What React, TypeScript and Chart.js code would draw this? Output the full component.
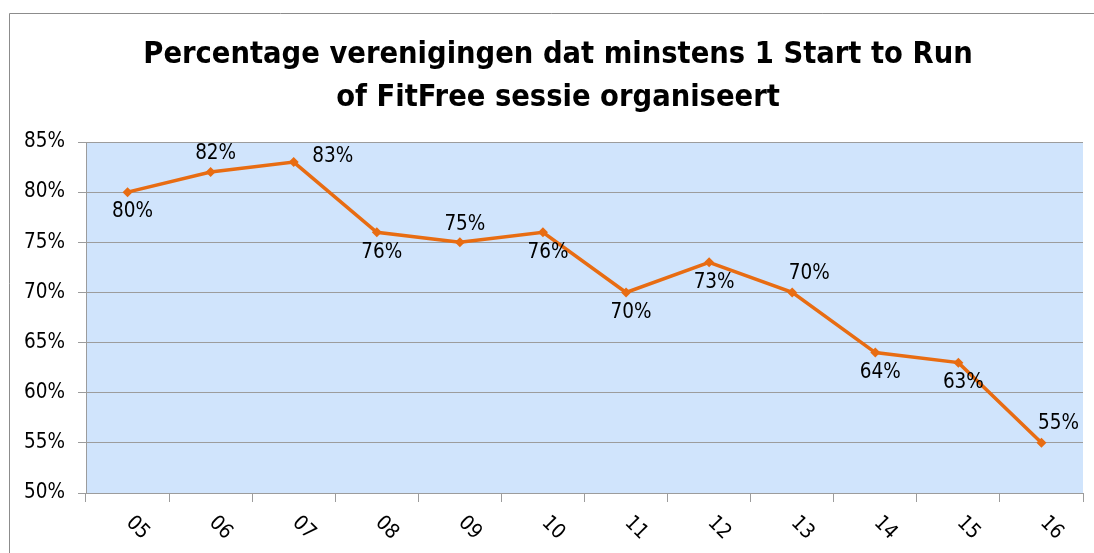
import React, { useEffect, useRef } from "react";
import { Chart, registerables } from "chart.js";

Chart.register(...registerables);

const titleLines = ["Percentage verenigingen dat minstens 1 Start to Run", "of FitFree sessie organiseert"];
const categories = ["05", "06", "07", "08", "09", "10", "11", "12", "13", "14", "15", "16"];
const values = [80, 82, 83, 76, 75, 76, 70, 73, 70, 64, 63, 55];
const labelPlacement = ["below", "above", "right", "below", "above", "below", "below", "below", "aboveRight", "below", "below", "aboveRight"];
const yMin = 50;
const yMax = 85;
const yStep = 5;

const FONT = '"DejaVu Sans Condensed", "DejaVu Sans", sans-serif';
const LABEL_SIZE = 20.5;
const ORANGE = "#E86C12";
const GRID = "#9C9C9C";

const placementOffset: Record<string, [number, number]> = {
  below: [5, 20],
  above: [5, -18],
  right: [39, -5],
  aboveRight: [17, -19],
};

const decorPlugin = {
  id: "decor",
  beforeDraw(chart: any) {
    const { ctx, chartArea } = chart;
    ctx.save();
    ctx.fillStyle = "#ffffff";
    ctx.fillRect(0, 0, chart.width, chart.height);
    ctx.fillStyle = "#D0E4FC";
    ctx.fillRect(chartArea.left, chartArea.top, chartArea.right - chartArea.left, chartArea.bottom - chartArea.top);
    // outer frame
    ctx.strokeStyle = "#8C8C8C";
    ctx.lineWidth = 1;
    ctx.beginPath();
    ctx.moveTo(9.5, chart.height);
    ctx.lineTo(9.5, 13.5);
    ctx.lineTo(chart.width, 13.5);
    ctx.stroke();
    // title
    ctx.fillStyle = "#000000";
    ctx.font = `bold 30.5px ${FONT}`;
    ctx.textAlign = "center";
    ctx.textBaseline = "alphabetic";
    ctx.fillText(titleLines[0], 558, 63);
    ctx.fillText(titleLines[1], 558, 106);
    ctx.restore();
  },
  afterDatasetsDraw(chart: any) {
    const { ctx } = chart;
    const meta = chart.getDatasetMeta(0);
    ctx.save();
    ctx.fillStyle = "#000000";
    ctx.font = `${LABEL_SIZE}px ${FONT}`;
    ctx.textAlign = "center";
    ctx.textBaseline = "middle";
    meta.data.forEach((pt: any, i: number) => {
      const [dx, dy] = placementOffset[labelPlacement[i]];
      ctx.fillText(values[i] + "%", pt.x + dx, pt.y + dy);
    });
    // rotated x-axis labels
    const xs = chart.scales.x;
    categories.forEach((c, i) => {
      const x = xs.getPixelForValue(i);
      ctx.save();
      ctx.translate(x + 10, xs.bottom - 25);
      ctx.rotate(Math.PI / 4);
      ctx.fillText(c, 0, 0);
      ctx.restore();
    });
    ctx.restore();
  },
};

export default function App() {
  const ref = useRef<HTMLCanvasElement | null>(null);
  useEffect(() => {
    if (!ref.current) return;
    const chart = new Chart(ref.current, {
      type: "line",
      data: {
        labels: categories,
        datasets: [
          {
            data: values,
            borderColor: ORANGE,
            backgroundColor: ORANGE,
            borderWidth: 3.5,
            pointStyle: "rectRot",
            pointRadius: 5,
            pointBorderWidth: 0,
            pointBackgroundColor: ORANGE,
            tension: 0,
          },
        ],
      },
      options: {
        animation: false,
        responsive: false,
        devicePixelRatio: 1,
        layout: { padding: { left: 0, top: 142, right: 11, bottom: 0 } },
        plugins: { legend: { display: false }, tooltip: { enabled: false }, title: { display: false } },
        scales: {
          x: {
            type: "category",
            offset: true,
            grid: { offset: true, drawOnChartArea: false, color: GRID, tickLength: 9 },
            border: { color: GRID },
            ticks: { display: false },
            afterFit(scale: any) {
              scale.height = 60;
            },
          },
          y: {
            min: yMin,
            max: yMax,
            grid: { color: GRID, tickLength: 8 },
            border: { color: GRID },
            ticks: {
              stepSize: yStep,
              color: "#000000",
              padding: 13,
              font: { family: FONT, size: LABEL_SIZE },
              callback: (v: any) => v + "%",
            },
            afterFit(scale: any) {
              scale.width = 86;
            },
          },
        },
      },
      plugins: [decorPlugin],
    });
    return () => chart.destroy();
  }, []);
  return (
    <div style={{ position: "absolute", left: 0, top: 0, width: 1094, height: 553 }}>
      <canvas ref={ref} width={1094} height={553} style={{ width: 1094, height: 553, display: "block" }} />
    </div>
  );
}
